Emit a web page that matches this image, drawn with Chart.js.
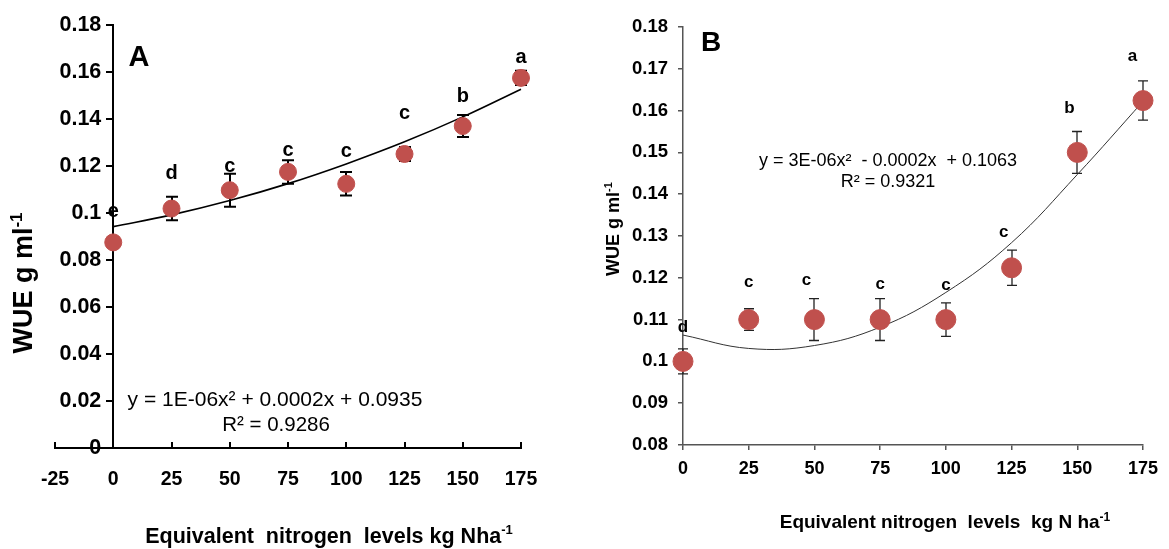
<!DOCTYPE html>
<html>
<head>
<meta charset="utf-8">
<script src="https://cdn.jsdelivr.net/npm/chart.js@4.4.1/dist/chart.umd.min.js"></script>
<style>
  html, body { margin: 0; padding: 0; background: #fff; }
  #wrap { position: relative; width: 1169px; height: 549px; }
  canvas { position: absolute; top: 0; }
  #chartA { left: 0; }
  #chartB { left: 580px; }
</style>
</head>
<body>
<div id="wrap">
  <canvas id="chartA" width="580" height="549"></canvas>
  <canvas id="chartB" width="589" height="549"></canvas>
</div>
<script>
// N rates (kg N/ha) shared by both panels
const nitrogen = [0, 25, 50, 75, 100, 125, 150, 175];

// Panel A
const wueA = [0.0875, 0.1019, 0.1097, 0.1175, 0.1124, 0.1251, 0.1370, 0.1575];
const errA = [0.002, 0.005, 0.007, 0.005, 0.005, 0.003, 0.0047, 0.003];
const trendA = [0.0942, 0.0992, 0.1053, 0.1125, 0.1209, 0.1303, 0.1409, 0.1527];
const lettersA = ['e', 'd', 'c', 'c', 'c', 'c', 'b', 'a'];
const letterXA = [0, 25, 50, 75, 100, 125, 150, 175];
const letterYA = [0.1005, 0.1168, 0.1197, 0.1266, 0.126, 0.1424, 0.1496, 0.166];

// Panel B
const wueB = [0.100, 0.110, 0.110, 0.110, 0.110, 0.1224, 0.150, 0.1624];
const errB = [0.003, 0.0026, 0.005, 0.005, 0.004, 0.0042, 0.005, 0.0047];
const trendB = [0.1063, 0.1031, 0.1038, 0.1082, 0.1165, 0.1284, 0.1447, 0.1622];
const lettersB = ['d', 'c', 'c', 'c', 'c', 'c', 'b', 'a'];
const letterXB = [0, 25, 47, 75, 100, 122, 147, 171];
const letterYB = [0.1082, 0.119, 0.1194, 0.1184, 0.1182, 0.131, 0.1605, 0.1729];

const FAMILY = '"Liberation Sans", Arial, sans-serif';

// draws text made of normal and superscript runs, vertically centred on y
function drawRich(ctx, parts, x, y, size, weight, align) {
  const supSize = Math.round(size * 0.62);
  let total = 0;
  const widths = parts.map(([t, sup]) => {
    ctx.font = `${weight} ${sup ? supSize : size}px ${FAMILY}`;
    const w = ctx.measureText(t).width;
    total += w;
    return w;
  });
  let cx = align === 'center' ? x - total / 2 : (align === 'right' ? x - total : x);
  ctx.textAlign = 'left';
  ctx.textBaseline = 'middle';
  parts.forEach(([t, sup], i) => {
    ctx.font = `${weight} ${sup ? supSize : size}px ${FAMILY}`;
    ctx.fillText(t, cx, sup ? y - size * 0.3 : y);
    cx += widths[i];
  });
}

// error bars under the markers, letters and free text on top
function makeDecor(cfg) {
  return {
    id: 'decor',
    beforeDatasetsDraw(chart) {
      const { ctx, scales: { x, y } } = chart;
      ctx.save();
      ctx.strokeStyle = cfg.barColor;
      ctx.lineWidth = cfg.barWidth;
      cfg.values.forEach((v, i) => {
        const px = Math.round(x.getPixelForValue(nitrogen[i]));
        const top = y.getPixelForValue(v + cfg.errors[i]);
        const bot = y.getPixelForValue(v - cfg.errors[i]);
        ctx.beginPath();
        ctx.moveTo(px, top); ctx.lineTo(px, bot);
        ctx.moveTo(px - cfg.cap, top); ctx.lineTo(px + cfg.cap, top);
        ctx.moveTo(px - cfg.cap, bot); ctx.lineTo(px + cfg.cap, bot);
        ctx.stroke();
      });
      ctx.restore();
    },
    afterDraw(chart) {
      const { ctx, scales: { x, y } } = chart;
      ctx.save();
      ctx.fillStyle = '#000';
      ctx.font = `bold ${cfg.letterSize}px ${FAMILY}`;
      ctx.textAlign = 'center';
      ctx.textBaseline = 'middle';
      cfg.letters.forEach((l, i) => {
        ctx.fillText(l, x.getPixelForValue(cfg.letterX[i]), y.getPixelForValue(cfg.letterY[i]));
      });
      cfg.texts.forEach(t => {
        ctx.save();
        ctx.translate(t.x, t.y);
        if (t.rotate) ctx.rotate(t.rotate);
        drawRich(ctx, t.parts, 0, 0, t.size, t.weight || 'normal', 'center');
        ctx.restore();
      });
      ctx.restore();
    }
  };
}

const fmt = v => String(+(+v).toFixed(2));

// ---- Panel A ----
new Chart(document.getElementById('chartA'), {
  type: 'scatter',
  data: {
    datasets: [
      {
        data: nitrogen.map((n, i) => ({ x: n, y: wueA[i] })),
        backgroundColor: '#c0504d',
        borderColor: '#c0504d',
        pointRadius: 8.5,
        pointHoverRadius: 8.5,
        clip: false
      },
      {
        data: nitrogen.map((n, i) => ({ x: n, y: trendA[i] })),
        showLine: true,
        pointRadius: 0,
        borderColor: '#000',
        borderWidth: 1.6,
        tension: 0.4,
        clip: false
      }
    ]
  },
  options: {
    responsive: false,
    animation: false,
    devicePixelRatio: 1,
    events: [],
    layout: { padding: { left: 55, right: 59, top: 25, bottom: 61 } },
    plugins: { legend: { display: false }, tooltip: { enabled: false } },
    scales: {
      x: {
        type: 'linear', min: -25, max: 175,
        afterFit: s => { s.height = 40; },
        ticks: {
          stepSize: 25, color: '#000', padding: 26, maxRotation: 0,
          font: { family: FAMILY, size: 19.5, weight: 'bold' },
          callback: v => String(v)
        },
        grid: { drawOnChartArea: false, color: '#000', lineWidth: 2, tickLength: -6 },
        border: { color: '#000', width: 2 }
      },
      y: {
        type: 'linear', min: 0, max: 0.18, position: { x: 0 },
        ticks: {
          stepSize: 0.02, color: '#000',
          font: { family: FAMILY, size: 21.5, weight: 'bold' },
          callback: v => fmt(v) + '  '
        },
        grid: { drawOnChartArea: false, color: '#000', lineWidth: 2, tickLength: 6 },
        border: { color: '#000', width: 2 }
      }
    }
  },
  plugins: [makeDecor({
    values: wueA, errors: errA, cap: 6, barColor: '#000', barWidth: 2,
    letters: lettersA, letterX: letterXA, letterY: letterYA, letterSize: 20,
    texts: [
      { parts: [['A', false]], x: 139, y: 58, size: 29, weight: 'bold' },
      { parts: [['WUE g ml', false], ['-1', true]], x: 25, y: 283, size: 27, weight: 'bold', rotate: -Math.PI / 2 },
      { parts: [['y = 1E-06x² + 0.0002x + 0.0935', false]], x: 275, y: 400, size: 21 },
      { parts: [['R² = 0.9286', false]], x: 276, y: 425, size: 20.5 },
      { parts: [['Equivalent  nitrogen  levels kg Nha', false], ['-1', true]], x: 329, y: 537, size: 21.5, weight: 'bold' }
    ]
  })]
});

// ---- Panel B ----
new Chart(document.getElementById('chartB'), {
  type: 'scatter',
  data: {
    datasets: [
      {
        data: nitrogen.map((n, i) => ({ x: n, y: wueB[i] })),
        backgroundColor: '#c0504d',
        borderColor: '#c0504d',
        pointRadius: 10,
        pointHoverRadius: 10,
        clip: false
      },
      {
        data: nitrogen.map((n, i) => ({ x: n, y: trendB[i] })),
        showLine: true,
        pointRadius: 0,
        borderColor: '#333',
        borderWidth: 1,
        tension: 0.4,
        clip: false
      }
    ]
  },
  options: {
    responsive: false,
    animation: false,
    devicePixelRatio: 1,
    events: [],
    layout: { padding: { left: 43, right: 26, top: 27, bottom: 64 } },
    plugins: { legend: { display: false }, tooltip: { enabled: false } },
    scales: {
      x: {
        type: 'linear', min: 0, max: 175, position: 'bottom',
        afterFit: s => { s.height = 40; },
        ticks: {
          stepSize: 25, color: '#000', padding: 8, maxRotation: 0,
          font: { family: FAMILY, size: 18, weight: 'bold' },
          callback: v => String(v)
        },
        grid: { drawOnChartArea: false, color: '#555', lineWidth: 1.5, tickLength: 5 },
        border: { color: '#555', width: 1.5 }
      },
      y: {
        type: 'linear', min: 0.08, max: 0.18, position: 'left',
        afterFit: s => { s.width = 60; },
        ticks: {
          stepSize: 0.01, color: '#000', padding: 10,
          font: { family: FAMILY, size: 18.5, weight: 'bold' },
          callback: v => fmt(v)
        },
        grid: { drawOnChartArea: false, color: '#555', lineWidth: 1.5, tickLength: 5 },
        border: { color: '#555', width: 1.5 }
      }
    }
  },
  plugins: [makeDecor({
    values: wueB, errors: errB, cap: 5, barColor: '#222', barWidth: 1.3,
    letters: lettersB, letterX: letterXB, letterY: letterYB, letterSize: 17,
    texts: [
      { parts: [['B', false]], x: 131, y: 43, size: 28, weight: 'bold' },
      { parts: [['WUE g ml', false], ['-1', true]], x: 34, y: 229, size: 18, weight: 'bold', rotate: -Math.PI / 2 },
      { parts: [['y = 3E-06x²  - 0.0002x  + 0.1063', false]], x: 308, y: 161, size: 18 },
      { parts: [['R² = 0.9321', false]], x: 308, y: 182, size: 18 },
      { parts: [['Equivalent nitrogen  levels  kg N ha', false], ['-1', true]], x: 365, y: 523, size: 19, weight: 'bold' }
    ]
  })]
});
</script>
</body>
</html>
